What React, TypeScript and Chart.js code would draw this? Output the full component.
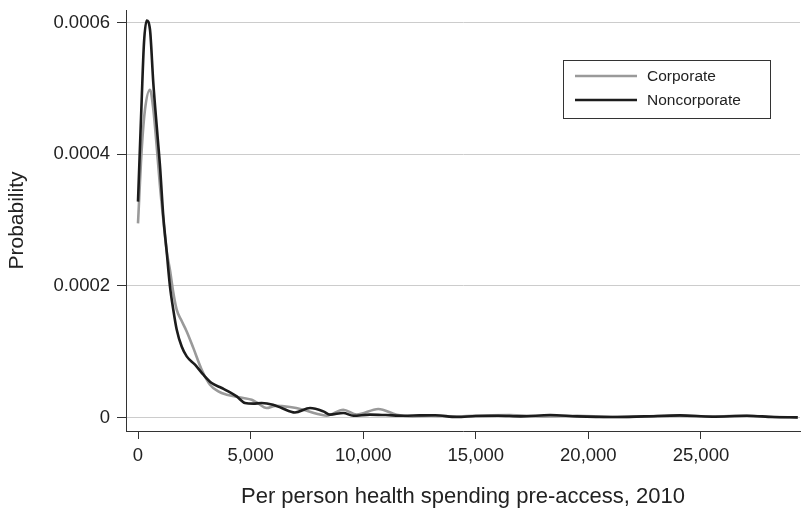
import React, { useEffect, useRef } from "react";
import { Chart, registerables } from "chart.js";

Chart.register(...registerables);

// ---- data ----
const seriesLabels = ["Corporate", "Noncorporate"];

const corporateX = [
  0, 164, 311, 533, 680, 830, 977, 1123, 1274, 1421, 1567, 1718, 1909, 2163, 2456,
  2829, 3197, 3566, 3939, 4307, 4676, 5049, 5270, 5713, 6100, 6750, 7340, 7935, 8379,
  9118, 9710, 10670, 11490, 12200, 13000, 14000, 15000, 16500, 18000, 19500, 21000,
  22500, 24000, 25500, 27000, 28500, 29300,
];
const corporateY = [
  0.000295, 0.000407, 0.000468, 0.000498, 0.000468, 0.000412, 0.000351, 0.000301,
  0.000253, 0.000224, 0.000190, 0.000164, 0.000149, 0.000131, 0.000106, 0.0000729,
  0.0000501, 0.0000399, 0.0000349, 0.0000323, 0.0000299, 0.0000273, 0.0000233,
  0.0000147, 0.000018, 0.0000162, 0.0000121, 0.000006, 0.000003, 0.0000121, 0.0000046,
  0.0000132, 0.0000046, 0.000002, 0.000003, 0.000002, 0.000003, 0.000004, 0.000002,
  0.000003, 0.000001, 0.000002, 0.000003, 0.000002, 0.000003, 0.000001, 0.0000005,
];

const noncorporateX = [
  0, 164, 266, 386, 533, 680, 857, 977, 1123, 1274, 1421, 1567, 1718, 1940, 2163,
  2531, 2900, 3273, 3717, 4010, 4383, 4751, 5120, 5490, 5995, 6380, 6970, 7640, 8230,
  8526, 9118, 9562, 10300, 11000, 11800, 12500, 13200, 14150, 15000, 16000, 17000,
  18300, 19500, 21090, 22500, 24070, 25500, 27040, 28200, 29300,
];
const noncorporateY = [
  0.000328, 0.000483, 0.000569, 0.000603, 0.000589, 0.000508, 0.000432, 0.000382,
  0.000306, 0.000252, 0.000199, 0.000164, 0.000134, 0.000108, 0.0000931, 0.0000805,
  0.0000653, 0.0000526, 0.0000451, 0.00004, 0.0000323, 0.0000223, 0.0000213,
  0.0000223, 0.0000197, 0.0000147, 0.000008, 0.0000147, 0.0000096, 0.0000046,
  0.0000071, 0.000003, 0.0000046, 0.000004, 0.000003, 0.0000035, 0.0000038, 0.000001,
  0.0000025, 0.000003, 0.000002, 0.000004, 0.000002, 0.000001, 0.000002, 0.0000035,
  0.0000015, 0.000003, 0.000001, 0.0000005,
];

const xTickValues = [0, 5000, 10000, 15000, 20000, 25000];
const yTickValues = [0, 0.0002, 0.0004, 0.0006];
const xAxisTitle = "Per person health spending pre-access, 2010";
const yAxisTitle = "Probability";

// ---- styling ----
const FONT = '"Liberation Sans", Arial, Helvetica, sans-serif';
const CORP_COLOR = "#9a9a9a";
const NONCORP_COLOR = "#1c1c1c";
const AXIS_COLOR = "#333333";
const GRID_COLOR = "#cccccc";
const TEXT_COLOR = "#222222";

const toPoints = (xs: number[], ys: number[]) => xs.map((x, i) => ({ x, y: ys[i] }));

export default function App() {
  const canvasRef = useRef<HTMLCanvasElement>(null);

  useEffect(() => {
    if (!canvasRef.current) return;

    const boxLegend = {
      id: "boxLegend",
      afterDraw(chart: any) {
        const { ctx, chartArea } = chart;
        const bx = Math.round(chartArea.right - 237) + 0.5;
        const by = Math.round(chartArea.top + 50) + 0.5;
        const bw = 207;
        const bh = 58;
        ctx.save();
        ctx.fillStyle = "#ffffff";
        ctx.fillRect(bx, by, bw, bh);
        ctx.strokeStyle = AXIS_COLOR;
        ctx.lineWidth = 1;
        ctx.strokeRect(bx, by, bw, bh);
        const colors = [CORP_COLOR, NONCORP_COLOR];
        ctx.font = `15.5px ${FONT}`;
        ctx.textBaseline = "middle";
        ctx.textAlign = "left";
        seriesLabels.forEach((label, i) => {
          const yy = by + 15.5 + i * 24;
          ctx.strokeStyle = colors[i];
          ctx.lineWidth = 2.6;
          ctx.beginPath();
          ctx.moveTo(bx + 11.5, yy);
          ctx.lineTo(bx + 73.5, yy);
          ctx.stroke();
          ctx.fillStyle = TEXT_COLOR;
          ctx.fillText(label, bx + 83.5, yy + 0.5);
        });
        ctx.restore();
      },
    };

    const chart = new Chart(canvasRef.current, {
      type: "line",
      data: {
        datasets: [
          {
            label: seriesLabels[0],
            data: toPoints(corporateX, corporateY),
            borderColor: CORP_COLOR,
            borderWidth: 2.6,
            pointRadius: 0,
            cubicInterpolationMode: "monotone",
            fill: false,
            order: 1,
          },
          {
            label: seriesLabels[1],
            data: toPoints(noncorporateX, noncorporateY),
            borderColor: NONCORP_COLOR,
            borderWidth: 2.6,
            pointRadius: 0,
            cubicInterpolationMode: "monotone",
            fill: false,
            order: 0,
          },
        ],
      },
      options: {
        responsive: false,
        animation: false,
        events: [],
        layout: { padding: { top: 10, right: 2, left: 0, bottom: 0 } },
        plugins: {
          legend: { display: false },
          tooltip: { enabled: false },
        },
        scales: {
          x: {
            type: "linear",
            min: -533,
            max: 29400,
            afterBuildTicks: (scale: any) => {
              scale.ticks = xTickValues.map((v) => ({ value: v }));
            },
            afterFit: (scale: any) => {
              scale.height = 78;
              scale.paddingLeft = 0;
              scale.paddingRight = 0;
            },
            grid: {
              drawOnChartArea: false,
              drawTicks: true,
              tickLength: 8,
              tickColor: AXIS_COLOR,
              tickWidth: 1,
            },
            border: { display: true, color: AXIS_COLOR, width: 1 },
            ticks: {
              color: TEXT_COLOR,
              font: { family: FONT, size: 18.5 },
              padding: 6,
              maxRotation: 0,
              autoSkip: false,
              callback: (v: any) => Number(v).toLocaleString("en-US"),
            },
            title: {
              display: true,
              text: xAxisTitle,
              color: TEXT_COLOR,
              font: { family: FONT, size: 22 },
              padding: { top: 0, bottom: -1 },
            },
          },
          y: {
            type: "linear",
            min: -0.0000202,
            max: 0.000619,
            afterBuildTicks: (scale: any) => {
              scale.ticks = yTickValues.map((v) => ({ value: v }));
            },
            afterFit: (scale: any) => {
              scale.width = 126;
              scale.paddingTop = 0;
              scale.paddingBottom = 0;
            },
            grid: {
              color: GRID_COLOR,
              lineWidth: 1,
              drawTicks: true,
              tickLength: 9,
              tickColor: AXIS_COLOR,
              tickWidth: 1,
            },
            border: { display: true, color: AXIS_COLOR, width: 1 },
            ticks: {
              color: TEXT_COLOR,
              font: { family: FONT, size: 18.5 },
              padding: 7,
              autoSkip: false,
              callback: (v: any) => (Number(v) === 0 ? "0" : Number(v).toFixed(4)),
            },
            title: {
              display: true,
              text: yAxisTitle,
              color: TEXT_COLOR,
              font: { family: FONT, size: 21 },
              padding: { top: 5, bottom: 0 },
            },
          },
        },
      },
      plugins: [boxLegend],
    } as any);

    return () => chart.destroy();
  }, []);

  return (
    <div
      style={{
        position: "absolute",
        left: 0,
        top: 0,
        width: 802,
        height: 509,
        background: "#ffffff",
      }}
    >
      <canvas ref={canvasRef} width={802} height={509} style={{ display: "block" }} />
    </div>
  );
}
